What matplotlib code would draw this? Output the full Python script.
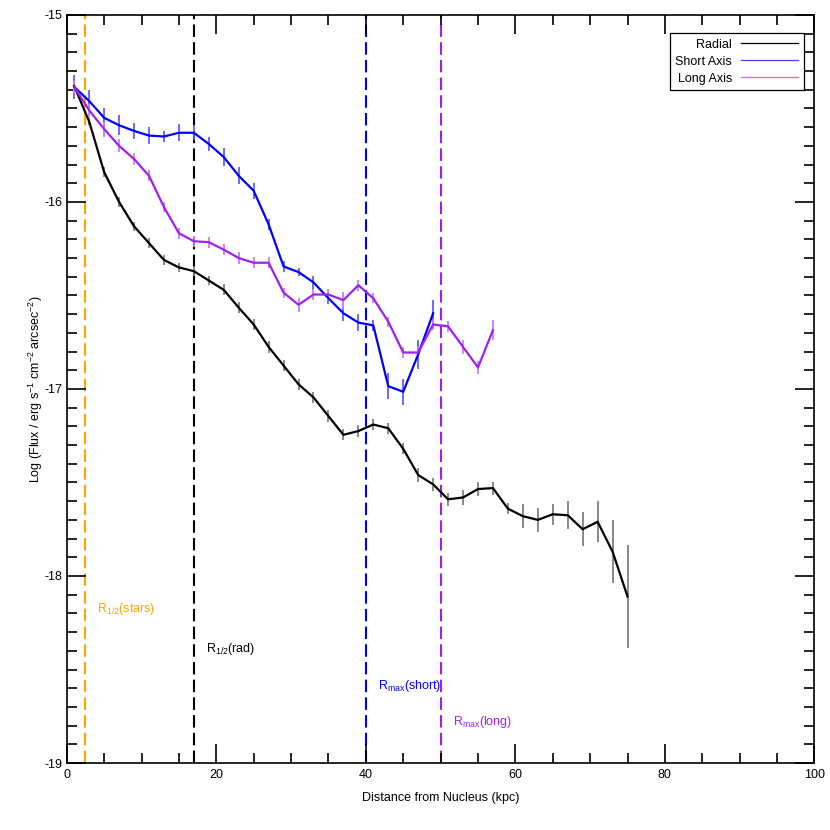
import matplotlib
matplotlib.use("Agg")
import matplotlib.pyplot as plt
from matplotlib.lines import Line2D
from matplotlib.ticker import MultipleLocator

plt.rcParams["font.family"] = ["Liberation Sans", "DejaVu Sans"]
plt.rcParams["axes.unicode_minus"] = False
plt.rcParams["mathtext.fontset"] = "custom"
plt.rcParams["mathtext.rm"] = "Liberation Sans"

# ---------------- data ----------------
radial_x = list(range(1, 76, 2))
radial_y = [-15.38, -15.57, -15.84, -16.00, -16.13, -16.22, -16.31, -16.35,
            -16.37, -16.42, -16.47, -16.565, -16.655, -16.775, -16.875,
            -16.975, -17.045, -17.145, -17.245, -17.225, -17.19, -17.21,
            -17.32, -17.46, -17.51, -17.59, -17.58, -17.535, -17.53, -17.64,
            -17.68, -17.70, -17.67, -17.675, -17.75, -17.71, -17.87, -18.11]
radial_err = [0.02, 0.02, 0.025, 0.025, 0.025, 0.025, 0.025, 0.025, 0.025,
              0.025, 0.03, 0.03, 0.03, 0.03, 0.03, 0.03, 0.03, 0.03, 0.03,
              0.03, 0.03, 0.03, 0.03, 0.035, 0.035, 0.035, 0.04, 0.035,
              0.035, 0.03, 0.063, 0.063, 0.055, 0.075, 0.09, 0.11, 0.17, 0.275]

short_x = list(range(1, 50, 2))
short_y = [-15.385, -15.46, -15.55, -15.59, -15.62, -15.645, -15.65, -15.63,
           -15.63, -15.69, -15.76, -15.86, -15.94, -16.12, -16.345, -16.375,
           -16.43, -16.515, -16.595, -16.645, -16.66, -16.985, -17.015,
           -16.815, -16.595]
short_err = [0.063, 0.06, 0.054, 0.054, 0.043, 0.045, 0.027, 0.045, 0.04,
             0.04, 0.046, 0.046, 0.042, 0.03, 0.03, 0.022, 0.034, 0.03, 0.04,
             0.045, 0.03, 0.07, 0.07, 0.076, 0.07]

long_x = list(range(1, 58, 2))
long_y = [-15.385, -15.51, -15.61, -15.70, -15.77, -15.86, -16.027, -16.167,
          -16.21, -16.215, -16.255, -16.30, -16.325, -16.325, -16.485, -16.55,
          -16.495, -16.495, -16.525, -16.445, -16.515, -16.64, -16.805,
          -16.805, -16.655, -16.665, -16.775, -16.885, -16.685]
long_err = [0.03, 0.035, 0.04, 0.035, 0.03, 0.03, 0.027, 0.03, 0.03, 0.03,
            0.03, 0.03, 0.03, 0.03, 0.027, 0.036, 0.03, 0.03, 0.045, 0.03,
            0.027, 0.027, 0.03, 0.03, 0.027, 0.03, 0.036, 0.033, 0.054]

# characteristic radii (kpc)
marker_x = [2.5, 17.0, 40.0, 50.0]
marker_labels = [r"$\mathregular{R_{1/2}}$(stars)", r"$\mathregular{R_{1/2}}$(rad)",
                 r"$\mathregular{R_{max}}$(short)", r"$\mathregular{R_{max}}$(long)"]
marker_label_x = [4.0, 18.6, 41.6, 51.6]
marker_label_y = [-18.175, -18.39, -18.59, -18.78]

BLACK = "black"
BLUE = "#0000ff"
PURPLE = "#a020f0"
ORANGE = "#ffa500"
marker_colors = [ORANGE, BLACK, BLUE, PURPLE]

# ---------------- plot ----------------
fig = plt.figure(figsize=(8.3, 8.3), dpi=100)
ax = fig.add_axes([0.0804, 0.0807, 0.9009, 0.9013])

series = [
    (radial_x, radial_y, radial_err, BLACK, "#808080"),
    (short_x, short_y, short_err, BLUE, "#6060ff"),
    (long_x, long_y, long_err, PURPLE, "#c080ff"),
]
for xs, ys, es, col, ecol in series:
    ax.errorbar(xs, ys, yerr=es, fmt="none", ecolor=ecol, elinewidth=1.3,
                capsize=0, zorder=2)
    ax.plot(xs, ys, color=col, linewidth=1.6, zorder=3)

for xv, col in zip(marker_x, marker_colors):
    ax.axvline(xv, color=col, linewidth=1.5, dashes=(6, 2.5), zorder=1)

for lab, lx, ly, col in zip(marker_labels, marker_label_x, marker_label_y,
                            marker_colors):
    ax.text(lx, ly, lab, color=col, fontsize=9, va="center", ha="left")

ax.set_xlim(0, 100)
ax.set_ylim(-19, -15)
ax.xaxis.set_major_locator(MultipleLocator(20))
ax.xaxis.set_minor_locator(MultipleLocator(5))
ax.yaxis.set_major_locator(MultipleLocator(1))
ax.yaxis.set_minor_locator(MultipleLocator(0.1))
ax.tick_params(which="both", direction="in", top=True, right=True,
               width=1.2, labelsize=9)
ax.tick_params(which="major", length=14)
ax.tick_params(which="minor", length=7)
ax.tick_params(axis="y", which="major", pad=3)
ax.tick_params(axis="x", which="major", pad=4)
for sp in ax.spines.values():
    sp.set_linewidth(1.2)

ax.set_xlabel("Distance from Nucleus (kpc)", fontsize=9, labelpad=8)
ax.set_ylabel(r"Log (Flux / erg s$^{\mathregular{-1}}$ cm$^{\mathregular{-2}}$ "
              r"arcsec$^{\mathregular{-2}}$)", fontsize=9, labelpad=0)

handles = [Line2D([], [], color=BLACK, linewidth=0.9),
           Line2D([], [], color="#4040ff", linewidth=0.9),
           Line2D([], [], color="#c070ff", linewidth=0.9)]
leg = ax.legend(handles, ["Radial", "Short Axis", "Long Axis"],
                loc="upper right", bbox_to_anchor=(0.986, 0.976),
                borderaxespad=0, markerfirst=False, fontsize=9,
                handlelength=4.6, fancybox=False, framealpha=1,
                edgecolor="black", labelspacing=0.4, handletextpad=0.7,
                borderpad=0.45)
leg.get_frame().set_linewidth(0.9)
for t in leg.get_texts():
    t.set_ha("right")

fig.savefig("out.png", dpi=100)
